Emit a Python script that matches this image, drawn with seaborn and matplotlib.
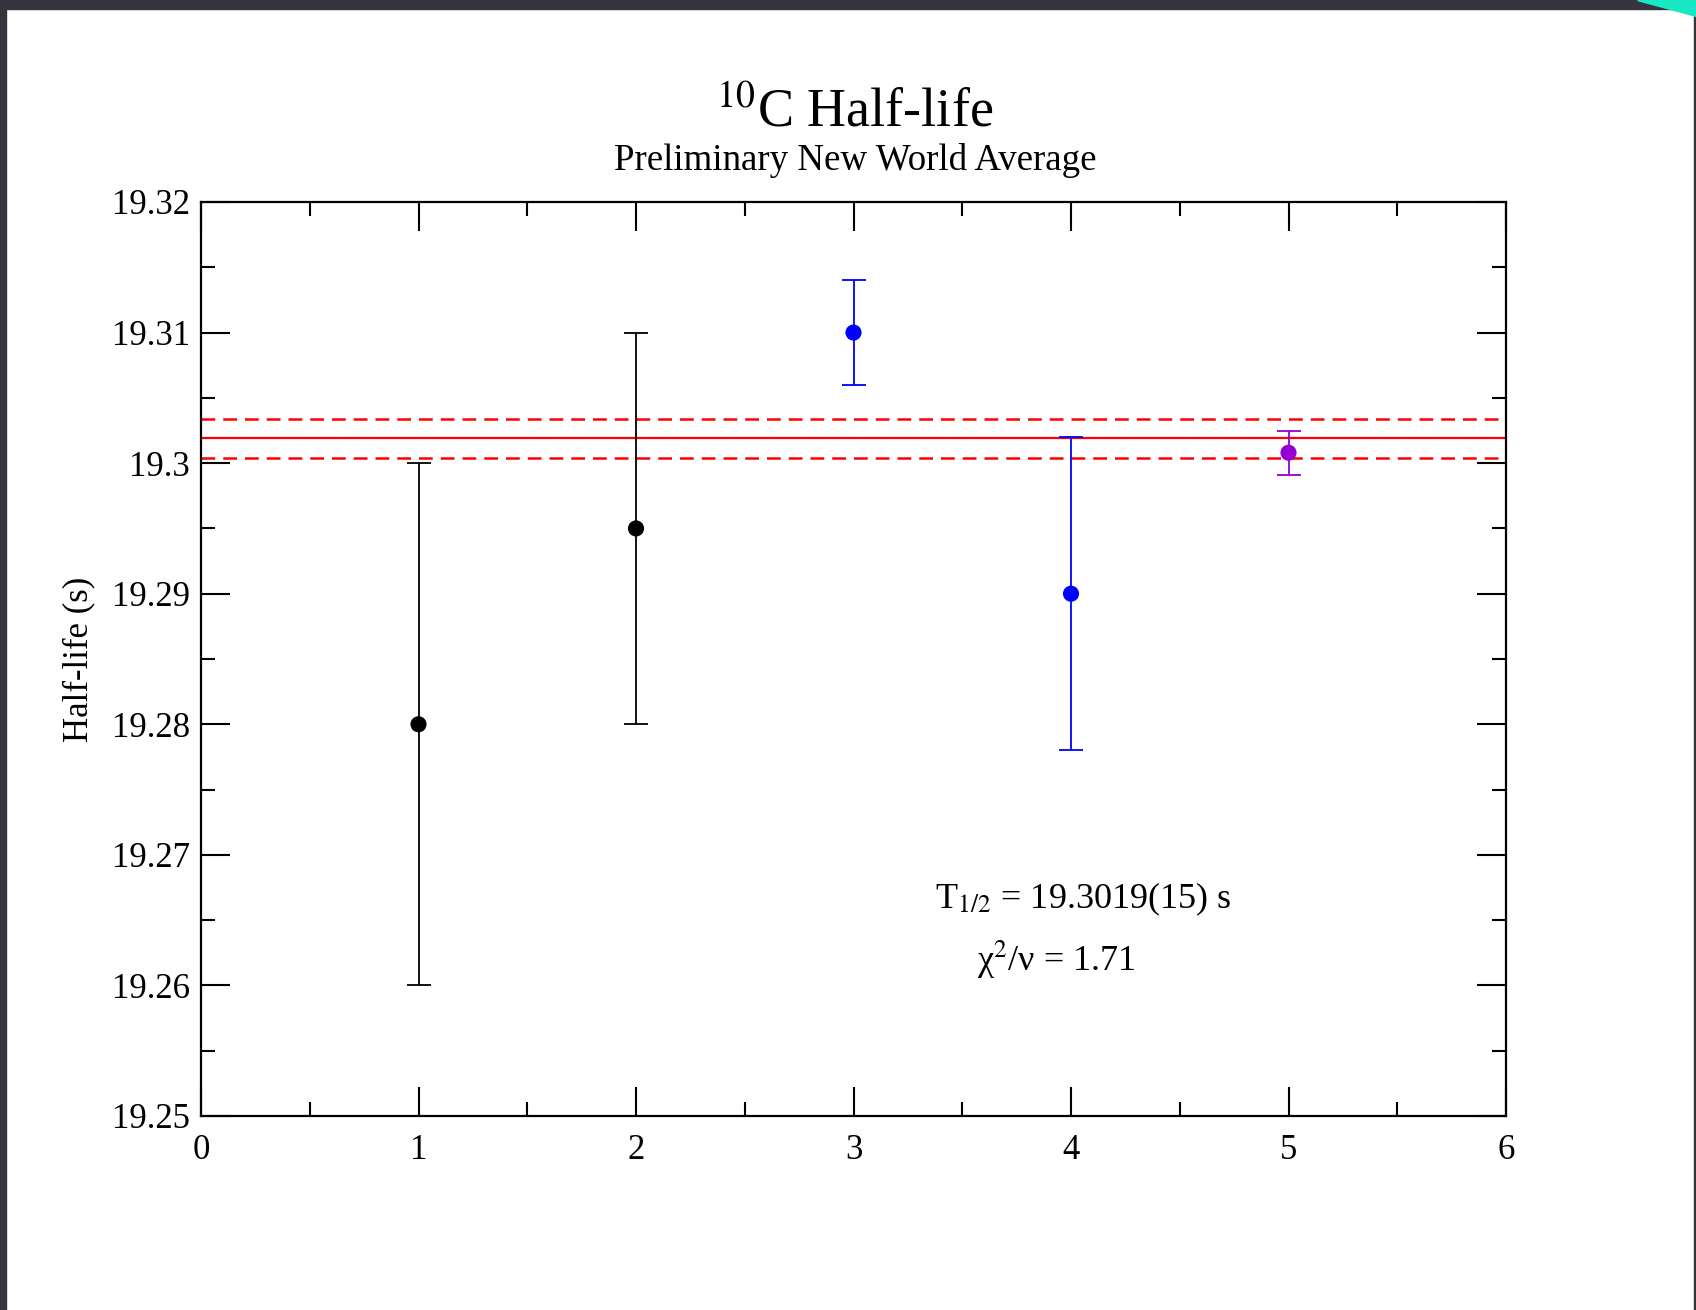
import matplotlib
matplotlib.use("Agg")
import matplotlib.pyplot as plt
from matplotlib.patches import Rectangle, Polygon
from matplotlib.ticker import MultipleLocator, FixedLocator
import pandas as pd
import seaborn as sns

# Half-life measurements (s) and their 1-sigma uncertainties
experiment = [1, 2, 3, 4, 5]
half_life = [19.280, 19.295, 19.310, 19.290, 19.3008]
uncertainty = [0.020, 0.015, 0.004, 0.012, 0.0017]
group = ["older", "older", "recent", "recent", "new"]
group_colors = {"older": "#000000", "recent": "#0000ff", "new": "#9400d3"}

# Weighted world average and its uncertainty
world_avg = 19.3019
world_avg_err = 0.0015

x_ticks = [0, 1, 2, 3, 4, 5, 6]
y_ticks = [19.25, 19.26, 19.27, 19.28, 19.29, 19.30, 19.31, 19.32]
y_tick_labels = ["19.25", "19.26", "19.27", "19.28", "19.29", "19.3", "19.31", "19.32"]

df = pd.DataFrame({"experiment": experiment, "half_life": half_life,
                   "uncertainty": uncertainty, "group": group})

sns.set_theme(style="ticks")
plt.rcParams["font.family"] = ["Liberation Serif", "DejaVu Serif"]
plt.rcParams["mathtext.fontset"] = "stix"
plt.rcParams["text.color"] = "black"
plt.rcParams["axes.labelcolor"] = "black"
plt.rcParams["xtick.color"] = "black"
plt.rcParams["ytick.color"] = "black"

fig = plt.figure(figsize=(16.96, 13.10), dpi=100)
fig.patch.set_facecolor("white")
ax = fig.add_axes([201 / 1696, 1 - 1116 / 1310, 1305 / 1696, 914 / 1310])

# average band
ax.axhline(world_avg, color="#ff0000", lw=1.6, zorder=1)
for off in (-world_avg_err, world_avg_err):
    ax.axhline(world_avg + off, color="#ff0000", lw=1.8, ls=(0, (5.5, 3.2)), zorder=1)

# error bars per group
for g, sub in df.groupby("group"):
    ax.errorbar(sub["experiment"], sub["half_life"], yerr=sub["uncertainty"],
                fmt="none", ecolor=group_colors[g], elinewidth=1.3,
                capsize=8.5, capthick=1.3, zorder=2)

sns.scatterplot(data=df, x="experiment", y="half_life", hue="group",
                palette=group_colors, s=135, edgecolor="none", legend=False,
                ax=ax, zorder=3)

ax.set_xlim(0, 6)
ax.set_ylim(19.25, 19.32)
ax.xaxis.set_major_locator(FixedLocator(x_ticks))
ax.set_xticklabels([str(t) for t in x_ticks])
ax.xaxis.set_minor_locator(MultipleLocator(0.5))
ax.yaxis.set_major_locator(FixedLocator(y_ticks))
ax.set_yticklabels(y_tick_labels)
ax.yaxis.set_minor_locator(MultipleLocator(0.005))
ax.tick_params(which="both", direction="in", top=True, right=True,
               colors="black", labelcolor="black", width=1.5)
ax.tick_params(which="major", length=21, labelsize=25)
ax.tick_params(which="minor", length=10)
ax.tick_params(axis="y", which="major", pad=8)
ax.tick_params(axis="x", which="major", pad=13)
for sp in ax.spines.values():
    sp.set_linewidth(1.6)
    sp.set_color("black")
    sp.set_visible(True)

ax.set_xlabel("")
ax.set_ylabel("Half-life (s)", fontsize=25, color="black")
ax.yaxis.set_label_coords(-0.081, 0.5)

ax.text(3.375, 19.2659, r"T$_{1/2}$ = 19.3019(15) s", fontsize=26, va="baseline")
ax.text(3.568, 19.2611, r"χ$^{2}$/ν = 1.71", fontsize=26, va="baseline")

fig.text(0.504, 1 - 127 / 1310, r"$^{10}$C Half-life", fontsize=39,
         ha="center", va="baseline")
fig.text(0.504, 1 - 170 / 1310, "Preliminary New World Average", fontsize=26.6,
         ha="center", va="baseline")

# window frame around the page
dark = "#35343f"
fig.patches.append(Rectangle((0, 1 - 9 / 1310), 1, 9 / 1310, transform=fig.transFigure,
                             color=dark, zorder=10))
fig.patches.append(Rectangle((0, 0), 6 / 1696, 1, transform=fig.transFigure,
                             color=dark, zorder=10))
fig.patches.append(Rectangle((1 - 2 / 1696, 0), 2 / 1696, 1, transform=fig.transFigure,
                             color=dark, zorder=10))
fig.patches.append(Polygon([(1637 / 1696, 1), (1, 1), (1, 1 - 16 / 1310)],
                           closed=True, transform=fig.transFigure,
                           color="#19e8c4", zorder=11))

fig.savefig("out.png", dpi=100)
